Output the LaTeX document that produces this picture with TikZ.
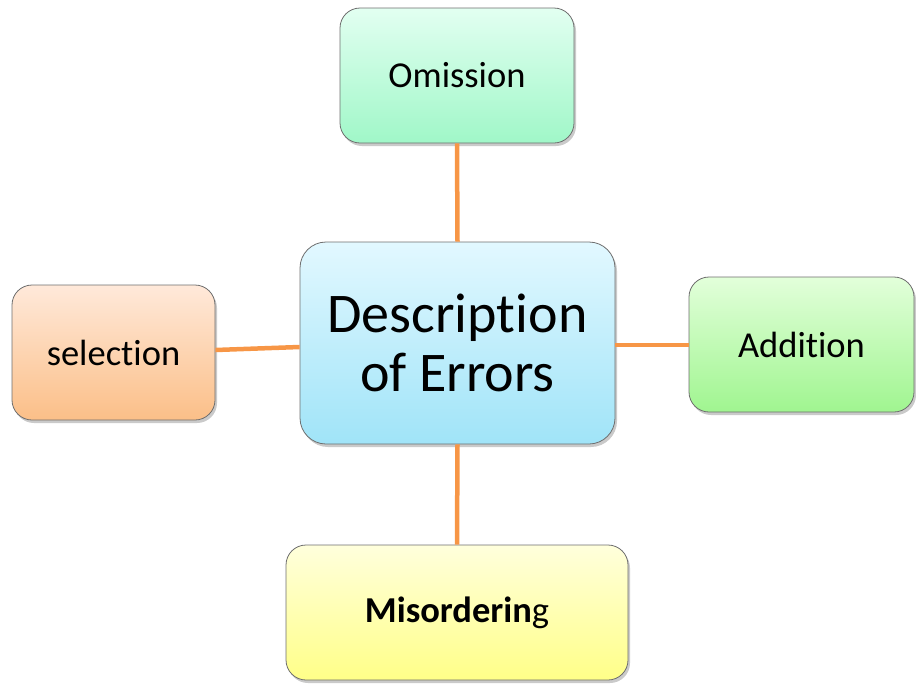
\documentclass[tikz,border=0pt]{standalone}
\usepackage{fontspec}
\setmainfont{Carlito}[Ligatures={NoCommon}]
\usetikzlibrary{shadows}
\definecolor{linkor}{HTML}{F79646}
\definecolor{edgegray}{HTML}{6E6E6E}
\definecolor{omT}{HTML}{E2FFF1}\definecolor{omB}{HTML}{A0F7C8}
\definecolor{ceT}{HTML}{E2F8FF}\definecolor{ceB}{HTML}{A0E4F8}
\definecolor{seT}{HTML}{FFE9DA}\definecolor{seB}{HTML}{FBBF88}
\definecolor{adT}{HTML}{E2FFDA}\definecolor{adB}{HTML}{A0F590}
\definecolor{miT}{HTML}{FFFFDC}\definecolor{miB}{HTML}{FFFF88}
\tikzset{
  box/.style={draw=edgegray, line width=0.8pt, rounded corners=20pt, inner sep=0pt,
    align=center, font=\fontsize{36.5}{40}\selectfont,
    drop shadow={shadow xshift=2pt, shadow yshift=-3pt, opacity=0.35, fill=black!60}},
  link/.style={draw=linkor, line width=4.5pt}
}
\begin{document}
\begin{tikzpicture}[x=1pt,y=-1pt]
\useasboundingbox (0,0) rectangle (916,683);
\node[box, minimum width=234pt, minimum height=135pt, top color=omT, bottom color=omB] (om) at (457,75.5) {Omission};
\node[box, minimum width=315pt, minimum height=202pt, rounded corners=26pt, top color=ceT, bottom color=ceB,
  font=\fontsize{56}{59}\selectfont] (ce) at (457.5,343) {Description\\of Errors};
\node[box, minimum width=203pt, minimum height=135pt, top color=seT, bottom color=seB] (se) at (113.5,352.5) {selection};
\node[box, minimum width=225pt, minimum height=135pt, top color=adT, bottom color=adB] (ad) at (801.5,344.5) {Addition};
\node[box, minimum width=342pt, minimum height=135pt, top color=miT, bottom color=miB] (mi) at (457,612.5) {\textbf{Misorderin}g};
\draw[link] (om.south) -- (ce.north);
\draw[link] (ce.south) -- (mi.north);
\draw[link] (ce.west |- 0,347) -- (se.east |- 0,350);
\draw[link] (ce.east |- 0,345) -- (ad.west |- 0,345);
\end{tikzpicture}
\end{document}
